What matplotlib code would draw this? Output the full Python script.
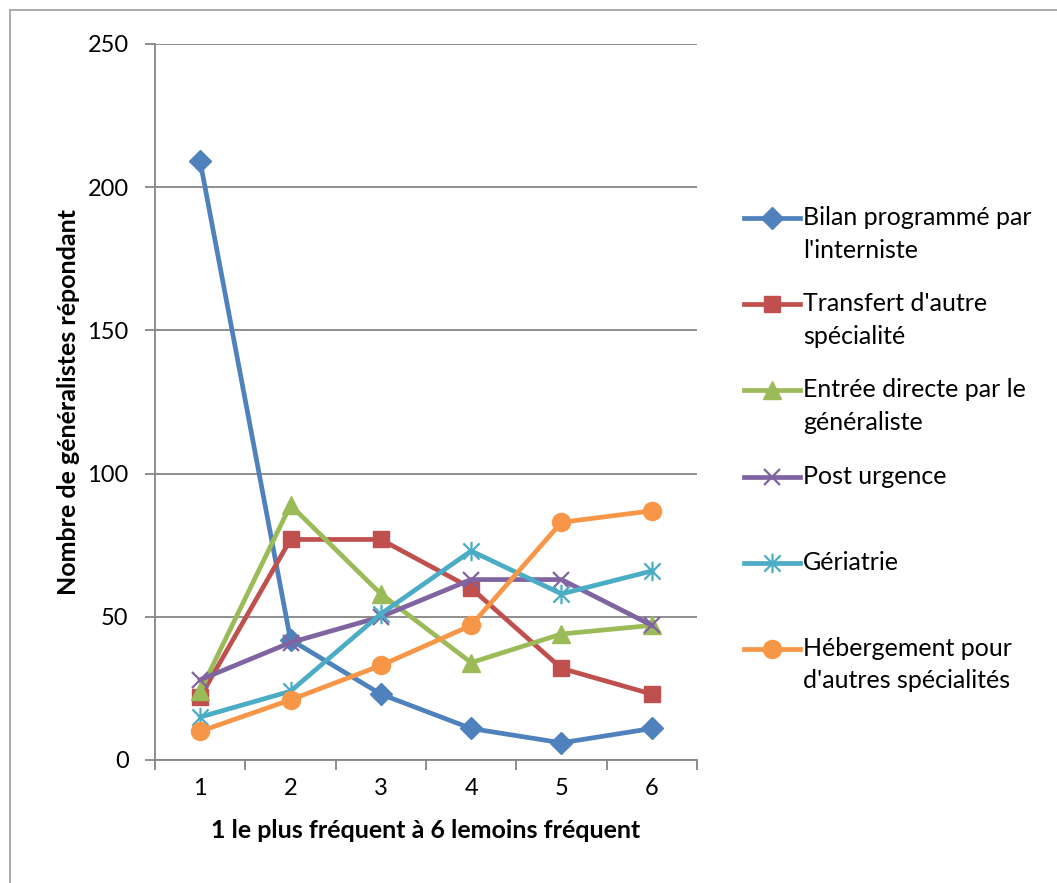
import matplotlib
matplotlib.use("Agg")
import matplotlib.pyplot as plt
from matplotlib.lines import Line2D
from matplotlib.path import Path

plt.rcParams['font.family'] = ['Lato', 'DejaVu Sans']

# données
rangs = [1, 2, 3, 4, 5, 6]
bilan = [209, 42, 23, 11, 6, 11]
transfert = [22, 77, 77, 60, 32, 23]
entree = [24, 89, 58, 34, 44, 47]
post_urgence = [28, 41, 50, 63, 63, 47]
geriatrie = [15, 24, 51, 73, 58, 66]
hebergement = [10, 21, 33, 47, 83, 87]

noms = ["Bilan programmé par\nl'interniste",
        "Transfert d'autre\nspécialité",
        "Entrée directe par le\ngénéraliste",
        "Post urgence",
        "Gériatrie",
        "Hébergement pour\nd'autres spécialités"]
series = [bilan, transfert, entree, post_urgence, geriatrie, hebergement]
couleurs = ['#4F81BD', '#C0504D', '#9BBB59', '#8064A2', '#4BACC6', '#F79646']

# asterisque style Excel (x + barre verticale)
etoile = Path([(-1, -1), (1, 1), (-1, 1), (1, -1), (0, -1.2), (0, 1.2)],
              [Path.MOVETO, Path.LINETO, Path.MOVETO, Path.LINETO, Path.MOVETO, Path.LINETO])
marqueurs = [('D', 11.5, 1), ('s', 11.5, 1), ('^', 12.5, 1), ('x', 11, 1.6), (etoile, 14, 1.6), ('o', 13, 1)]

fig = plt.figure(figsize=(10.57, 8.83), dpi=100)
ax = fig.add_axes([155/1057, 1-760/883, (697-155)/1057, (760-44)/883])

for vals, c, (m, ms, mew) in zip(series, couleurs, marqueurs):
    ax.plot(rangs, vals, color=c, lw=3.4, marker=m, ms=ms, mfc=c, mec=c, mew=mew,
            solid_joinstyle='round', clip_on=False)

ax.set_xlim(0.5, 6.5)
ax.set_ylim(0, 250)
ax.set_yticks([0, 50, 100, 150, 200, 250])
ax.set_xticks(rangs)
ax.set_xticks([r + 0.5 for r in [0] + rangs], minor=True)
ax.tick_params(axis='x', which='major', length=0, labelsize=17, pad=13)
ax.tick_params(axis='x', which='minor', length=7, width=1.3, color='#868686', direction='out')
ax.tick_params(axis='y', length=7, width=1.3, color='#868686', labelsize=17, pad=12)
ax.yaxis.grid(True, color='#868686', lw=1.3)
ax.set_axisbelow(True)
for s in ['top', 'right']:
    ax.spines[s].set_visible(False)
for s in ['left', 'bottom']:
    ax.spines[s].set_color('#868686')
    ax.spines[s].set_linewidth(1.3)

ax.set_xlabel("1 le plus fréquent à 6 lemoins fréquent", fontsize=18, fontweight='bold', labelpad=14)
ax.set_ylabel("Nombre de généralistes répondant", fontsize=18, fontweight='bold', labelpad=5)

# légende dessinée à la main (symbole aligné sur la première ligne)
y0 = 1 - 218/883
pas = 86.2/883
for i, (nom, c, (m, ms, mew)) in enumerate(zip(noms, couleurs, marqueurs)):
    y = y0 - i * pas
    fig.add_artist(Line2D([744/1057, 800/1057], [y, y], color=c, lw=3.4))
    fig.add_artist(Line2D([772/1057], [y], color=c, marker=m, ms=ms, mfc=c, mec=c, mew=mew))
    fig.text(803/1057, y + 12/883, nom, fontsize=18, va='top', ha='left', linespacing=1.5)

# cadre
fig.add_artist(Line2D([10/1057, 10/1057], [0, 1-10/883], color='#A6A6A6', lw=1.3))
fig.add_artist(Line2D([10/1057, 1], [1-10/883, 1-10/883], color='#A6A6A6', lw=1.3))

fig.savefig("out.png", dpi=100)
